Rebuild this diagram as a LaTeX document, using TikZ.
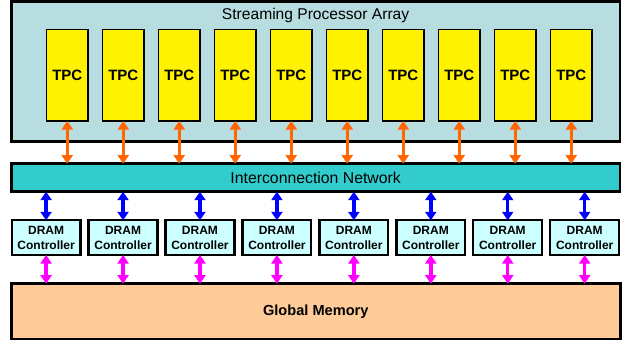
\documentclass[tikz,border=0pt]{standalone}
\usepackage{fontspec}
\setmainfont{Liberation Sans}
\usetikzlibrary{arrows.meta}
\definecolor{spafill}{RGB}{184,221,224}
\definecolor{icnfill}{RGB}{51,204,204}
\definecolor{dramfill}{RGB}{204,255,255}
\definecolor{gmfill}{RGB}{255,204,153}
\definecolor{arrorange}{RGB}{255,102,0}
\definecolor{arrblue}{RGB}{0,0,255}
\definecolor{arrmag}{RGB}{255,0,255}
\tikzset{
  box/.style={draw=black, rectangle, inner sep=0pt, outer sep=0pt, align=center},
  spabox/.style={box, fill=spafill, line width=2.7pt, minimum width=608.7pt, minimum height=140pt},
  tpcbox/.style={box, fill=yellow, line width=1.3pt, minimum width=41.5pt, minimum height=91.5pt, font=\fontsize{15}{18}\selectfont\bfseries},
  icnbox/.style={box, fill=icnfill, line width=2.7pt, minimum width=608.7pt, minimum height=28pt, font=\fontsize{15.8}{19}\selectfont},
  drambox/.style={box, fill=dramfill, line width=2.3pt, minimum width=68.8pt, minimum height=34.7pt, font=\fontsize{12}{15}\selectfont\bfseries},
  gmbox/.style={box, fill=gmfill, line width=2.7pt, minimum width=609pt, minimum height=55.3pt, font=\fontsize{14.6}{18}\selectfont\bfseries},
  titletext/.style={inner sep=0pt, font=\fontsize{15.6}{19}\selectfont},
  dbl/.style={line width=3.4pt, {Triangle[width=11pt,length=8.5pt]}-{Triangle[width=11pt,length=8.5pt]}},
}
\begin{document}
\begin{tikzpicture}[x=1pt,y=-1pt]
\useasboundingbox (0,0) rectangle (626,343);
\node[spabox] (spa) at (315.65,71.5) {};
\node[titletext] (title) at (315.6,15.5) {Streaming Processor Array};
\foreach \i in {0,...,9} {
  \node[tpcbox] (tpc\i) at ({67.25+56*\i},75.25) {TPC};
}
\node[icnbox] (icn) at (315.65,177.7) {Interconnection Network};
\foreach \i in {0,...,7} {
  \node[drambox] (dram\i) at ({46.1+76.94*\i},237.65) {DRAM\\Controller};
}
\node[gmbox] (gm) at (315.8,311.35) {Global Memory};
\foreach \i in {0,...,9} {
  \draw[dbl, arrorange] (tpc\i.south) -- (tpc\i.south |- icn.north);
}
\foreach \i in {0,...,7} {
  \draw[dbl, arrblue] (dram\i.north |- icn.south) -- (dram\i.north);
  \draw[dbl, arrmag] (dram\i.south) -- (dram\i.south |- gm.north);
}
\end{tikzpicture}
\end{document}
